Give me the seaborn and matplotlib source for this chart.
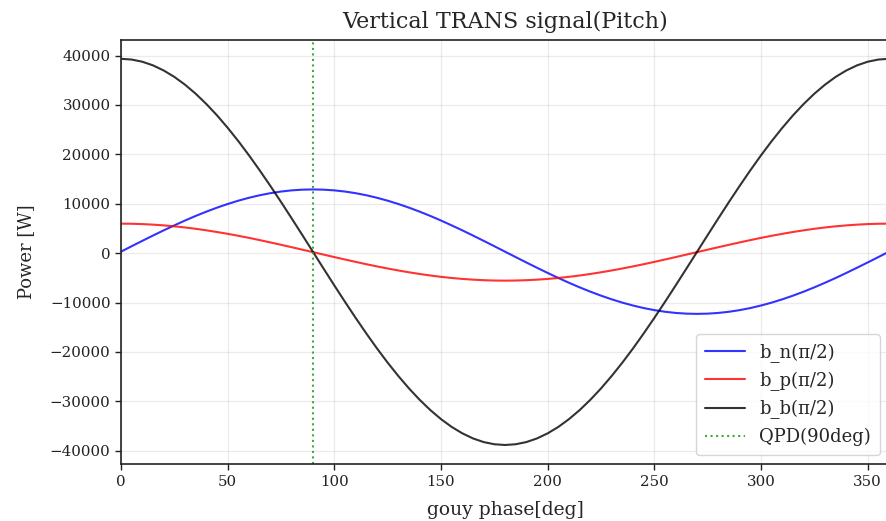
import numpy as np
import pandas as pd
import matplotlib
matplotlib.use("Agg")
import matplotlib.pyplot as plt
import seaborn as sns

# ---- data (every 5 deg) ----
phase = list(range(0, 361, 5))
b_n = [300, 1400, 2490, 3560, 4610, 5620, 6600, 7530, 8400, 9210, 9950, 10620, 11210, 11720,
       12140, 12470, 12710, 12850, 12900, 12850, 12710, 12470, 12140, 11720, 11210, 10620, 9950,
       9210, 8400, 7530, 6600, 5620, 4610, 3560, 2490, 1400, 300, -800, -1890, -2960, -4010, -5030,
       -6000, -6930, -7800, -8610, -9350, -10020, -10610, -11120, -11540, -11870, -12110, -12250,
       -12300, -12250, -12110, -11870, -11540, -11120, -10610, -10020, -9350, -8610, -7800, -6930,
       -6000, -5030, -4010, -2960, -1890, -800, 300]
b_p = [5970, 5950, 5880, 5770, 5620, 5430, 5200, 4930, 4620, 4280, 3910, 3510, 3090, 2640, 2170,
       1690, 1200, 700, 200, -300, -800, -1290, -1770, -2240, -2690, -3110, -3510, -3880, -4220,
       -4530, -4800, -5030, -5220, -5370, -5480, -5550, -5570, -5550, -5480, -5370, -5220, -5030,
       -4800, -4530, -4220, -3880, -3510, -3110, -2690, -2240, -1770, -1290, -800, -300, 200, 700,
       1200, 1690, 2170, 2640, 3090, 3510, 3910, 4280, 4620, 4930, 5200, 5430, 5620, 5770, 5880,
       5950, 5970]
b_b = [39350, 39200, 38760, 38020, 36990, 35690, 34110, 32280, 30200, 27900, 25380, 22680, 19800,
       16770, 13620, 10370, 7040, 3660, 250, -3160, -6540, -9870, -13120, -16270, -19300, -22180,
       -24880, -27400, -29700, -31780, -33610, -35190, -36490, -37520, -38260, -38700, -38850,
       -38700, -38260, -37520, -36490, -35190, -33610, -31780, -29700, -27400, -24880, -22180,
       -19300, -16270, -13120, -9870, -6540, -3160, 250, 3660, 7040, 10370, 13620, 16770, 19800,
       22680, 25380, 27900, 30200, 32280, 34110, 35690, 36990, 38020, 38760, 39200, 39350]
qpd_phase = 90
series_labels = ["b_n(π/2)", "b_p(π/2)", "b_b(π/2)"]
qpd_label = "QPD(90deg)"

df = pd.DataFrame({"phase": phase, "b_n": b_n, "b_p": b_p, "b_b": b_b})

sns.set_style("ticks")
plt.rcParams["font.family"] = ["DejaVu Serif"]
plt.rcParams["axes.edgecolor"] = "#222222"
plt.rcParams["axes.linewidth"] = 1.2

fig = plt.figure(figsize=(8.87, 5.21), dpi=100)
ax = fig.add_axes([121 / 887, 1 - 464.3 / 521, (889 - 121) / 887, (464.3 - 39.5) / 521])

colors = ["#0000ff", "#ff0000", "#000000"]
for col, lab, c in zip(["b_n", "b_p", "b_b"], series_labels, colors):
    sns.lineplot(data=df, x="phase", y=col, ax=ax, color=c, alpha=0.8, linewidth=1.5, label=lab)
ax.axvline(qpd_phase, color="tab:green", linestyle=":", linewidth=1.5, alpha=0.9, label=qpd_label)

ax.set_xlim(0, 360)
ax.set_xticks([0, 50, 100, 150, 200, 250, 300, 350])
ax.set_yticks([-40000, -30000, -20000, -10000, 0, 10000, 20000, 30000, 40000])
ax.grid(True, color="#b0b0b0", alpha=0.25, linewidth=0.9)
ax.tick_params(axis="both", labelsize=10.8, colors="#222222", length=4, width=1)
ax.set_xlabel("gouy phase[deg]", fontsize=13.5, labelpad=9)
ax.set_ylabel("Power [W]", fontsize=13, labelpad=11)
ax.set_title("Vertical TRANS signal(Pitch)", fontsize=16, pad=8)
ax.legend(loc="lower right", fontsize=13, frameon=True, fancybox=True, framealpha=0.8,
          borderpad=0.5, handlelength=2.2)

fig.savefig("out.png", dpi=100)
